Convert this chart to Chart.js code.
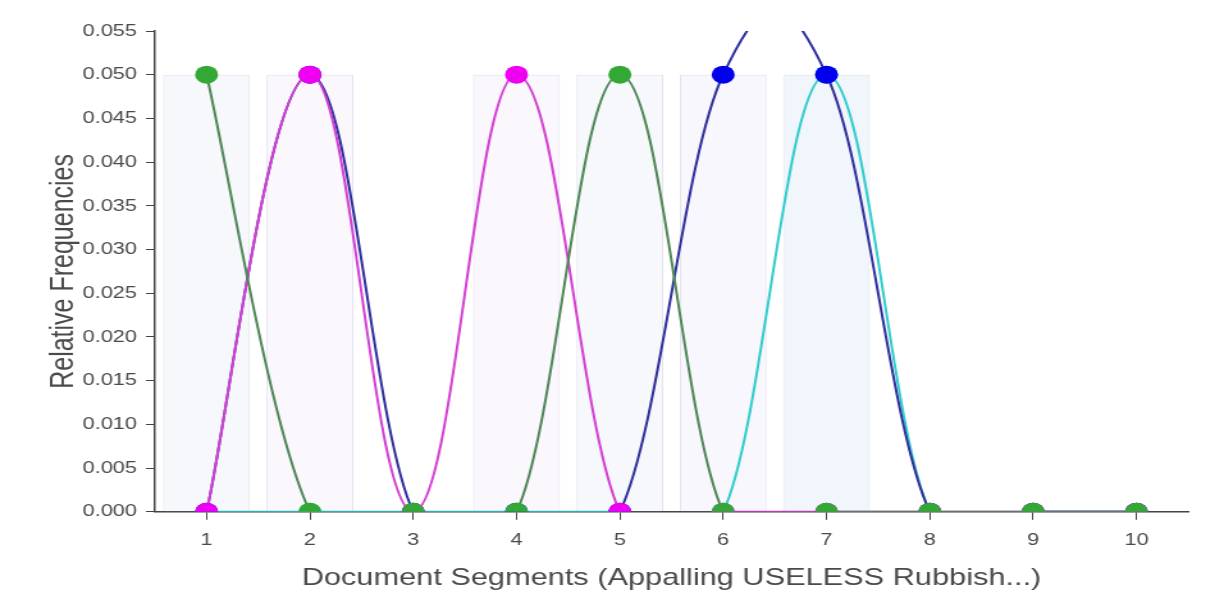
<!DOCTYPE html>
<html>
<head>
<meta charset="utf-8">
<script src="https://cdn.jsdelivr.net/npm/chart.js@4/dist/chart.umd.min.js"></script>
<style>
    html, body { margin: 0; padding: 0; background: #fff; overflow: hidden; }
    /* the reference is stretched sideways, so draw narrow and widen it */
    #wrap { width: 942px; height: 601px; transform: scaleX(1.2803); transform-origin: 0 0; }
</style>
</head>
<body>
<div id="wrap"><canvas id="trend_chart" width="942" height="601"></canvas></div>
<script>
const segments = ['1', '2', '3', '4', '5', '6', '7', '8', '9', '10'];

const green_term   = [0.05, 0, 0, 0, 0.05, 0, 0, 0, 0, 0];
const magenta_term = [0, 0.05, 0, 0.05, 0, 0, 0, 0, 0, 0];
const blue_term    = [0, 0.05, 0, 0, 0, 0.05, 0.05, 0, 0, 0];
const cyan_term    = [0, 0, 0, 0, 0, 0, 0.05, 0, 0, 0];
const segment_bars = [0.05, 0.05, 0, 0.05, 0.05, 0.05, 0.05, 0, 0, 0];

const y_ticks = [0, 0.005, 0.01, 0.015, 0.02, 0.025, 0.03, 0.035, 0.04, 0.045, 0.05, 0.055];

const bar_fills = ['#f6f8fc', '#faf7fd', '#ffffff', '#faf7fd', '#f7f8fc', '#f7f7fd', '#f0f6fc', '#ffffff', '#ffffff', '#ffffff'];

Chart.defaults.font.family = '"Liberation Sans", Arial, sans-serif';

// plain catmull-rom style smoothing (even spacing), closer to the original than the default
const even_spline = {
    id: 'even_spline',
    beforeDatasetDraw(chart, args) {
        const meta = args.meta;
        if (meta.type !== 'line') return;
        meta.dataset.updateControlPoints(chart.chartArea, meta.indexAxis);
        const pts = meta.data;
        const k = 1 / 5;
        for (let i = 0; i < pts.length; i++) {
            const prev = pts[Math.max(i - 1, 0)];
            const next = pts[Math.min(i + 1, pts.length - 1)];
            const dx = (next.x - prev.x) * k;
            const dy = (next.y - prev.y) * k;
            pts[i].cp1x = pts[i].x - dx;
            pts[i].cp1y = pts[i].y - dy;
            pts[i].cp2x = pts[i].x + dx;
            pts[i].cp2y = pts[i].y + dy;
        }
    }
};

function line_set(label, data, line_color, dot_color) {
    return {
        type: 'line',
        label: label,
        data: data,
        borderColor: line_color,
        borderWidth: 2,
        backgroundColor: dot_color,
        pointBackgroundColor: dot_color,
        pointBorderWidth: 0,
        pointRadius: 9,
        pointHoverRadius: 9,
        tension: 0.4,
        fill: false
    };
}

const ctx = document.getElementById('trend_chart').getContext('2d');
new Chart(ctx, {
    data: {
        labels: segments,
        datasets: [
            line_set('green', green_term, '#4f8656', '#34a834'),
            line_set('magenta', magenta_term, '#d23fd2', '#f000f0'),
            line_set('blue', blue_term, '#2f2f9c', '#0000ee'),
            line_set('cyan', cyan_term, '#30cccc', '#20d0d0'),
            {
                type: 'bar',
                label: 'segments',
                data: segment_bars,
                backgroundColor: bar_fills,
                borderColor: '#e0e0ee',
                borderWidth: 1,
                barPercentage: 0.84,
                categoryPercentage: 1.0
            }
        ]
    },
    plugins: [even_spline],
    options: {
        responsive: false,
        animation: false,
        layout: {
            padding: { top: 31, right: 14, bottom: 0, left: 0 }
        },
        elements: {
            line: { capBezierPoints: false }
        },
        plugins: {
            legend: { display: false },
            tooltip: { enabled: false }
        },
        scales: {
            x: {
                type: 'category',
                offset: true,
                border: { display: true, color: '#444', width: 1.5 },
                grid: { display: true, drawOnChartArea: false, drawTicks: true, tickLength: 8, color: '#444', offset: false },
                ticks: { color: '#4a4a4a', font: { size: 17 }, padding: 10 },
                title: {
                    display: true,
                    text: 'Document Segments (Appalling USELESS Rubbish...)',
                    color: '#4a4a4a',
                    font: { size: 24 },
                    padding: { top: 4, bottom: 8 }
                }
            },
            y: {
                min: 0,
                max: 0.055,
                afterBuildTicks: axis => {
                    axis.ticks = y_ticks.map(v => ({ value: v }));
                },
                afterFit: axis => {
                    axis.width = 121;
                },
                border: { display: true, color: '#444', width: 1.5 },
                grid: { display: true, drawOnChartArea: false, drawTicks: true, tickLength: 7, color: '#444' },
                ticks: {
                    color: '#4a4a4a',
                    font: { size: 17 },
                    padding: 7,
                    callback: value => Number(value).toFixed(3)
                },
                title: {
                    display: true,
                    text: 'Relative Frequencies',
                    color: '#4a4a4a',
                    font: { size: 25 },
                    padding: { top: 35, bottom: 0 }
                }
            }
        }
    }
});
</script>
</body>
</html>
